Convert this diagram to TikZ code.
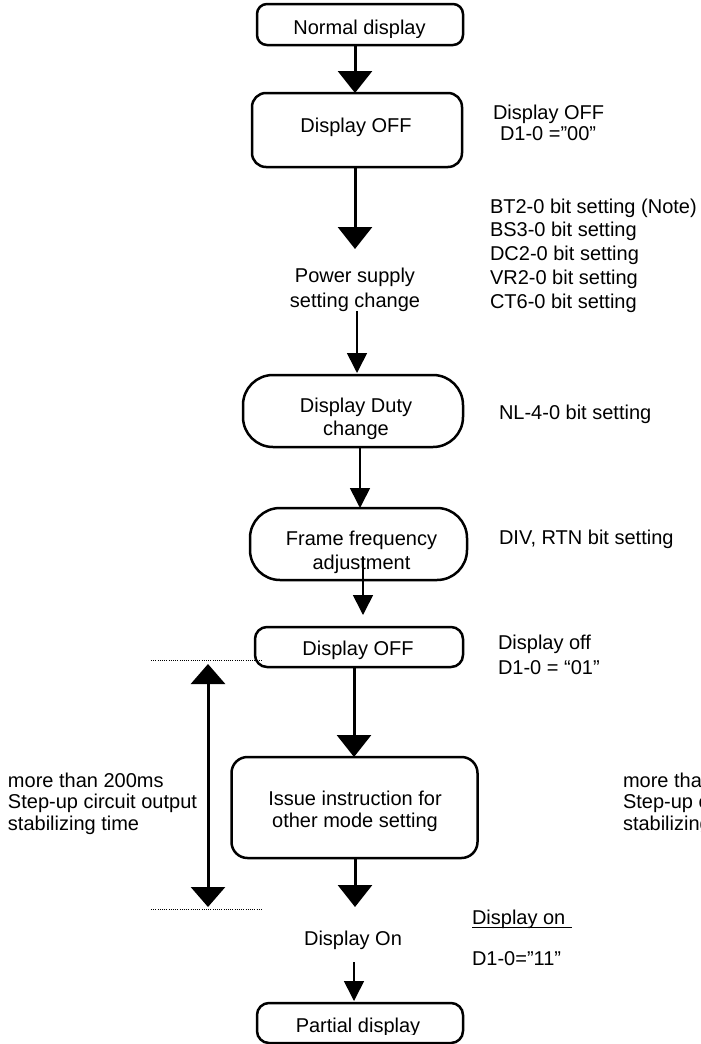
\documentclass[tikz,border=0pt]{standalone}
\usepackage{fontspec}
\setmainfont{Liberation Sans}
\usetikzlibrary{arrows.meta}
\tikzset{
  every node/.style={inner sep=0pt, outer sep=0pt, font=\fontsize{20}{23.5}\selectfont},
  bx/.style={draw, line width=2.5pt, rounded corners=#1, inner sep=0pt},
  thickarr/.style={line width=3pt, -{Triangle[width=34pt,length=22pt]}},
  thinarr/.style={line width=1.6pt, -{Triangle[width=20pt,length=20pt]}},
  dblarr/.style={line width=3pt, {Triangle[width=34pt,length=20pt]}-{Triangle[width=34pt,length=20pt]}},
  dotline/.style={line width=1pt, dash pattern=on 1pt off 1.2pt},
  lsp/.style={font=\fontsize{20}{#1}\selectfont},
}
\begin{document}
\begin{tikzpicture}[x=1pt,y=-1pt]
\clip (0,0) rectangle (701,1044);
\fill[white] (0,0) rectangle (701,1044);
% column coordinates
\coordinate (x354) at (354,0);
\coordinate (x355) at (355,0);
\coordinate (x357) at (357,0);
\coordinate (x360) at (360,0);
\coordinate (x363) at (363,0);
% boxes
\node[bx=10, minimum width=206pt, minimum height=41pt] (nd) at (360,24.5) {};
\node[bx=14, minimum width=210pt, minimum height=74pt] (off1) at (357,130) {};
\node[bx=30, minimum width=220pt, minimum height=72pt] (duty) at (353,411) {};
\node[bx=30, minimum width=217pt, minimum height=72pt] (frame) at (358.5,544) {};
\node[bx=12, minimum width=208pt, minimum height=40pt] (off2) at (359,647) {};
\node[bx=16, minimum width=246pt, minimum height=101pt] (issue) at (354.5,807.5) {};
\node[bx=12, minimum width=206pt, minimum height=40pt] (partial) at (360,1023) {};
% box texts
\begin{scope}
\clip (257,4) rectangle (463,37.5);
\node[anchor=base] (ndt) at (359.5,34.3) {Normal display};
\end{scope}
\node (off1t) at (356,127) {Display OFF};
\node[align=center, lsp=23] (dutyt) at (356,418.5) {Display Duty\\change};
\node[align=center, lsp=24] (framet) at (361.5,552) {Frame frequency\\adjustment};
\node (off2t) at (358,650) {Display OFF};
\node[align=center, lsp=22] (issuet) at (355,811) {Issue instruction for\\other mode setting};
\begin{scope}
\clip (257,1003) rectangle (463,1034);
\node[anchor=base] (partialt) at (358,1032) {Partial display};
\end{scope}
% free texts
\node[align=center, lsp=25] (pw) at (355,289.5) {Power supply\\setting change};
\node[align=center] (don) at (353,940) {Display On};
\node[anchor=west, align=left, lsp=20.5] (lab1) at (493,123) {Display OFF\\\hspace{7pt}D1-0 =”00”};
\node[anchor=west, align=left, lsp=23.75] (lab2) at (490,255.5) {BT2-0 bit setting (Note)\\BS3-0 bit setting\\DC2-0 bit setting\\VR2-0 bit setting\\CT6-0 bit setting};
\node[anchor=west] (lab3) at (499,414) {NL-4-0 bit setting};
\node[anchor=west] (lab4) at (499,539) {DIV, RTN bit setting};
\node[anchor=west, align=left, lsp=25] (lab5) at (498,654.5) {Display off\\D1-0 = “01”};
\node[anchor=west, align=left, lsp=21.5] (lab6) at (8,803.5) {more than 200ms\\Step-up circuit output\\stabilizing time};
\node[anchor=west, align=left, lsp=21.5] (lab7) at (623,803.5) {more than 200ms\\Step-up circuit output\\stabilizing time};
\node[anchor=west] (lab8) at (472,919) {Display on};
\draw[line width=1.3pt] ([yshift=-3pt]lab8.base west) -- ++(100,0);
\node[anchor=west] (lab9) at (472,959) {D1-0=\char34 11\char34};
% free end coordinates
\coordinate (p2) at (355,249);
\coordinate (p5) at (363,557);
\coordinate (p7) at (355,907);
\coordinate (d1) at (208,664);
\coordinate (d2) at (208,907);
\coordinate (t1) at (151,660);
\coordinate (t2) at (263,660);
\coordinate (b1) at (151,909);
\coordinate (b2) at (263,909);
% connectors
\draw[thickarr] (nd.south -| x355) -- (off1.north -| x355);
\draw[thickarr] (off1.south -| x355) -- (p2);
\draw[thinarr, shorten >=2pt] (pw.south -| x357) -- (duty.north -| x357);
\draw[thinarr] (duty.south -| x360) -- (frame.north -| x360);
\draw[thinarr, shorten >=12pt] (p5) -- (off2.north -| x363);
\draw[thickarr] (off2.south -| x354) -- (issue.north -| x354);
\draw[thickarr] (issue.south -| x355) -- (p7);
\draw[thinarr, shorten <=13pt, shorten >=2pt] (don.south -| x354) -- (partial.north -| x354);
\draw[dblarr] (d1) -- (d2);
\draw[dotline] (t1) -- (t2);
\draw[dotline] (b1) -- (b2);
\end{tikzpicture}
\end{document}
